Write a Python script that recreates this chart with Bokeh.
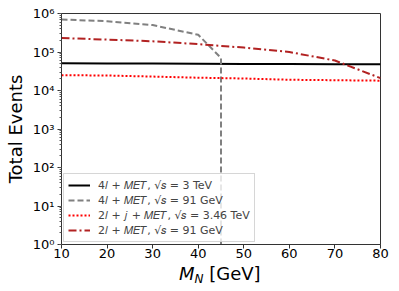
from bokeh.plotting import figure
from bokeh.models import Legend, LegendItem, FixedTicker, LogTicker, Div
from bokeh.layouts import column
from bokeh.embed import file_html
from bokeh.resources import INLINE

# data
x_3tev = [10, 20, 30, 40, 50, 60, 70, 80]
y_3tev = [5.1e4, 5.05e4, 5.0e4, 4.95e4, 4.9e4, 4.85e4, 4.8e4, 4.8e4]

x_91_4l = [10, 20, 30, 40, 45, 45]
y_91_4l = [7.0e5, 6.3e5, 5.0e5, 2.8e5, 7.0e4, 1e-1]

x_346 = [10, 20, 30, 40, 50, 60, 70, 80]
y_346 = [2.5e4, 2.45e4, 2.3e4, 2.15e4, 2.05e4, 1.9e4, 1.85e4, 1.8e4]

x_91_2l = [10, 20, 30, 40, 50, 60, 70, 80]
y_91_2l = [2.3e5, 2.1e5, 1.9e5, 1.6e5, 1.3e5, 1.0e5, 6.0e4, 2.1e4]

labels = ["4\U0001D459 + \U0001D440\U0001D438\U0001D447, \u221A\U0001D460 = 3 TeV",
          "4\U0001D459 + \U0001D440\U0001D438\U0001D447, \u221A\U0001D460 = 91 GeV",
          "2\U0001D459 + \U0001D457 + \U0001D440\U0001D438\U0001D447, \u221A\U0001D460 = 3.46 TeV",
          "2\U0001D459 + \U0001D440\U0001D438\U0001D447, \u221A\U0001D460 = 91 GeV"]

y_ticks = [1, 10, 100, 1000, 10000, 100000, 1000000]
y_tick_labels = ["10\u2070", "10\u00b9", "10\u00b2", "10\u00b3", "10\u2074", "10\u2075", "10\u2076"]
x_ticks = [10, 20, 30, 40, 50, 60, 70, 80]

FONT = "DejaVu Sans"

p = figure(width=395, height=266, x_range=(10, 80), y_range=(1, 1e6),
           y_axis_type="log", output_backend="svg", toolbar_location=None,
           min_border_left=61, min_border_right=15, min_border_top=13, min_border_bottom=22,
           margin=(0, 0, 0, 0))
p.background_fill_color = "white"
p.border_fill_color = "white"
p.outline_line_color = "#333333"
p.outline_line_width = 1
p.xgrid.visible = False
p.ygrid.visible = False

r1 = p.line(x_3tev, y_3tev, line_color="black", line_width=2)
r2 = p.line(x_91_4l, y_91_4l, line_color="gray", line_width=2, line_dash="6 3")
r3 = p.line(x_346, y_346, line_color="red", line_width=2, line_dash="2 2")
r4 = p.line(x_91_2l, y_91_2l, line_color="#b22222", line_width=2, line_dash="8 3 2 3")

leg = Legend(items=[LegendItem(label=labels[0], renderers=[r1]),
                    LegendItem(label=labels[1], renderers=[r2]),
                    LegendItem(label=labels[2], renderers=[r3]),
                    LegendItem(label=labels[3], renderers=[r4])],
             location="bottom_left")
leg.label_text_font = FONT
leg.label_text_font_size = "11px"
leg.glyph_width = 22
leg.glyph_height = 14
leg.label_height = 14
leg.spacing = 1
leg.padding = 4
leg.margin = 2
leg.border_line_color = "#cccccc"
leg.border_line_alpha = 0.8
leg.background_fill_alpha = 0.8
leg.label_standoff = 8
p.add_layout(leg)

p.yaxis.ticker = LogTicker(num_minor_ticks=10, desired_num_ticks=7)
p.yaxis.major_label_overrides = {t: l for t, l in zip(y_ticks, y_tick_labels)}
p.xaxis.ticker = FixedTicker(ticks=x_ticks)
for ax in (p.xaxis[0], p.yaxis[0]):
    ax.axis_line_color = "#333333"
    ax.major_tick_line_color = "#333333"
    ax.minor_tick_line_color = "#555555"
    ax.major_tick_out = 4
    ax.major_tick_in = 0
    ax.minor_tick_out = 2
    ax.minor_tick_in = 0
    ax.major_label_text_font = FONT
    ax.major_label_text_font_size = "13px"
    ax.major_label_text_color = "black"
    ax.axis_label_text_font = FONT
    ax.axis_label_text_font_size = "18px"
    ax.axis_label_text_font_style = "normal"
    ax.axis_label_text_color = "black"
p.xaxis.minor_tick_line_color = None
p.xaxis.major_label_standoff = 0
p.yaxis.major_label_standoff = 3
p.yaxis.axis_label = "Total Events"
p.yaxis.axis_label_standoff = 4
p.xaxis.axis_label = None

xlabel = Div(
    text=('<div style="padding-left:179px; margin-top:-1px; font-family:\'DejaVu Sans\'; '
          'font-size:18px; line-height:18px; white-space:nowrap; color:black;">'
          '<i>M</i><sub style="font-size:12px; font-style:italic; line-height:0; '
          'vertical-align:-3px;">N</sub> [GeV]</div>'),
    width=395, height=24, margin=(0, 0, 0, 0))

layout = column(p, xlabel, spacing=0)

open("out.html", "w").write(file_html(layout, INLINE))
